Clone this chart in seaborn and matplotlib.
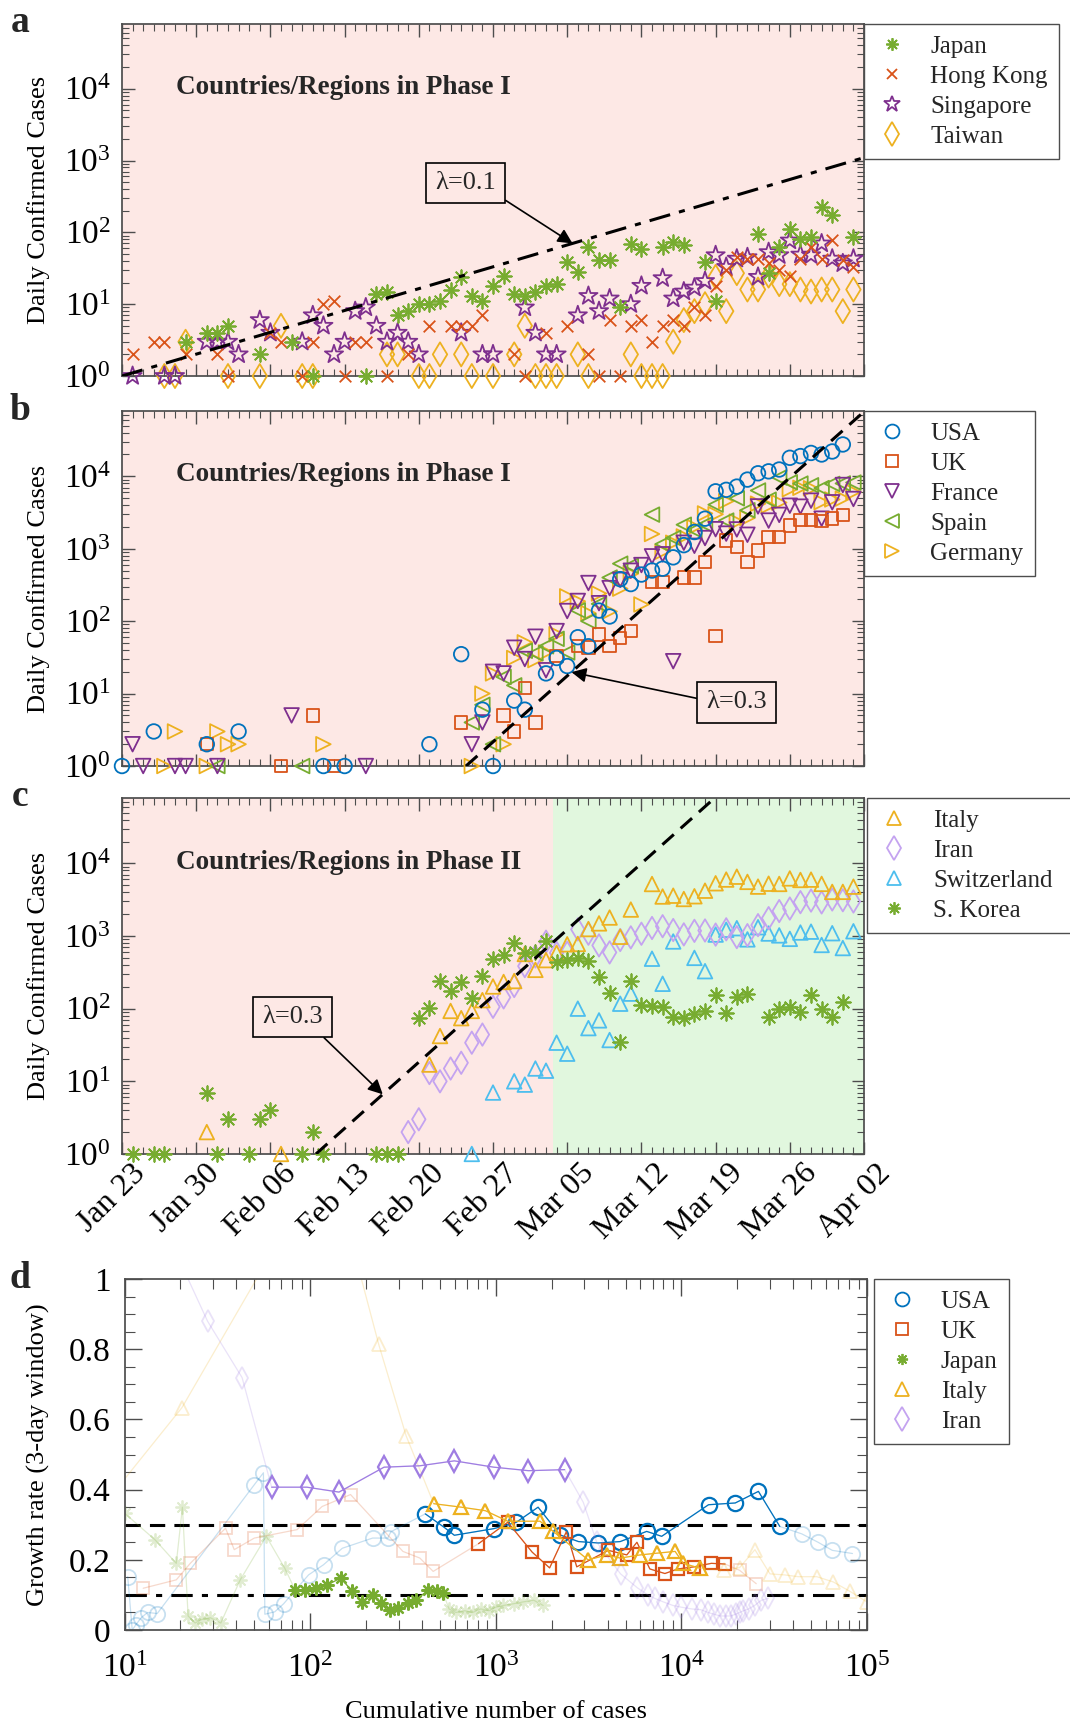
import numpy as np
import pandas as pd
import matplotlib
matplotlib.use("Agg")
import matplotlib.pyplot as plt
import matplotlib.dates as mdates
from matplotlib.lines import Line2D
from matplotlib.ticker import LogLocator, NullFormatter, MultipleLocator, FixedLocator, FuncFormatter
from matplotlib.transforms import ScaledTranslation
import seaborn as sns

sns.set_theme(style="ticks")
plt.rcParams["font.family"] = ["Liberation Serif", "DejaVu Serif"]
plt.rcParams["mathtext.fontset"] = "custom"
plt.rcParams["mathtext.rm"] = "Liberation Serif"
plt.rcParams["mathtext.it"] = "Liberation Serif:italic"
plt.rcParams["mathtext.bf"] = "Liberation Serif:bold"
plt.rcParams["axes.edgecolor"] = "0.3"
plt.rcParams["xtick.color"] = "0.3"
plt.rcParams["ytick.color"] = "0.3"
plt.rcParams["xtick.labelcolor"] = "black"
plt.rcParams["ytick.labelcolor"] = "black"
plt.rcParams["axes.labelcolor"] = "black"

# ---- data: day index counted from Jan 23 2020 ----
START = pd.Timestamp("2020-01-23")
WEEKS = pd.date_range("2020-01-23", "2020-04-02", freq="7D")

# panel a
japan_day = [6, 8, 9, 10, 13, 16, 18, 23, 24, 25, 26, 27, 28, 29, 30, 31, 32, 33, 34, 35, 36, 37, 38, 39, 40, 41,
             42, 43, 44, 45, 46, 47, 48, 49, 51, 52, 53, 55, 56, 60, 61, 62, 63, 64, 65, 66, 67, 69]
japan_val = [3, 4, 4, 5, 2, 3, 1, 1, 14, 15, 7, 8, 10, 10, 11, 16, 24, 13, 11, 18, 25, 14, 13, 15, 18, 19,
             39, 28, 63, 41, 41, 9, 69, 59, 63, 73, 66, 39, 11, 96, 27, 63, 112, 81, 86, 225, 172, 86]
hk_day = [1, 3, 4, 6, 9, 10, 14, 15, 17, 18, 19, 20, 21, 22, 23, 25, 27, 29, 31, 32, 33, 34, 37, 38, 40, 42,
          44, 45, 46, 47, 48, 49, 50, 51, 52, 53, 54, 55, 56, 57, 58, 59, 60, 61, 62, 63, 64, 65, 66, 67, 68, 69]
hk_val = [2, 3, 3, 2, 2, 1, 4, 3, 1, 3, 10, 11, 1, 3, 3, 1, 2, 5, 5, 5, 5, 7, 2, 1, 4, 5,
          2, 1, 6, 1, 5, 6, 3, 5, 6, 5, 9, 7, 18, 30, 45, 43, 43, 37, 30, 25, 43, 63, 43, 77, 41, 33]
sg_day = [1, 4, 5, 8, 9, 10, 11, 13, 14, 17, 18, 19, 20, 21, 22, 23, 24, 25, 26, 27, 28, 32, 34, 35, 38, 39,
          40, 41, 43, 44, 45, 46, 48, 49, 51, 52, 53, 54, 55, 56, 57, 58, 59, 60, 61, 62, 63, 64, 65, 66, 67, 68, 69]
sg_val = [1, 1, 1, 3, 3, 3, 2, 6, 4, 3, 7, 5, 2, 3, 8, 9, 5, 3, 4, 3, 2, 4, 2, 2, 9, 4,
          2, 2, 7, 13, 8, 12, 10, 18, 23, 12, 15, 17, 21, 48, 33, 43, 45, 24, 53, 48, 77, 49, 48, 70, 43, 37, 43]
tw_day = [4, 5, 6, 10, 13, 15, 17, 18, 25, 26, 28, 29, 30, 32, 33, 35, 37, 38, 39, 40, 41, 43, 44, 48, 49,
          50, 51, 52, 53, 54, 55, 56, 57, 58, 59, 60, 61, 62, 63, 64, 65, 66, 67, 68, 69]
tw_val = [1, 1, 3, 1, 1, 5, 1, 1, 2, 2, 1, 1, 2, 2, 1, 1, 2, 5, 1, 1, 1, 2, 1, 2, 1,
          1, 1, 3, 6, 8, 10, 24, 8, 27, 16, 16, 25, 19, 19, 16, 15, 16, 16, 8, 16]

# panel b
usa_day = [0, 3, 8, 11, 19, 21, 29, 32, 34, 35, 37, 38, 40, 41, 42, 43, 44, 45, 46, 47, 48, 49, 50, 51, 52,
           53, 54, 55, 56, 57, 58, 59, 60, 61, 62, 63, 64, 65, 66, 67, 68]
usa_val = [1, 3, 2, 3, 1, 1, 2, 35, 6, 1, 8, 6, 19, 31, 24, 60, 45, 140, 116, 380, 325, 440, 500, 530, 760,
           1120, 1700, 2600, 6200, 6500, 7200, 9000, 11000, 11700, 12400, 18000, 19000, 21000, 20000, 22000, 27500]
uk_day = [8, 15, 18, 20, 32, 36, 37, 38, 39, 41, 43, 44, 45, 46, 47, 48, 50, 51, 53, 54, 55, 56, 57, 58, 59,
          60, 61, 62, 63, 64, 65, 66, 67, 68]
uk_val = [2, 1, 5, 1, 4, 5, 3, 12, 4, 33, 45, 43, 65, 45, 58, 73, 345, 345, 400, 400, 650, 62, 1300, 1050, 650,
          950, 1450, 1450, 2100, 2500, 2500, 2400, 2600, 2900]
fr_day = [1, 2, 5, 6, 9, 16, 23] + list(range(33, 70))
fr_val = [2, 1, 1, 1, 1, 5, 1, 2, 4, 20, 19, 43, 30, 61, 21, 73, 138, 190, 336, 177, 286, 372, 497, 595, 785,
          838, 28, 1210, 1097, 1404, 1861, 1617, 1847, 1559, 3838, 2446, 2931, 3922, 3809, 4611, 2599, 4376,
          7578, 4861]
es_day = [9, 17] + list(range(33, 49)) + list(range(50, 70))
es_val = [1, 1, 4, 7, 2, 17, 13, 39, 36, 45, 57, 37, 141, 100, 173, 400, 622, 582, 2955, 1159, 1407, 2144,
          1806, 2162, 4053, 2447, 4964, 3394, 6368, 4749, 9630, 8271, 7933, 7516, 6875, 7846, 7967, 8195]
de_day = [4, 5, 8, 9, 10, 11, 19] + list(range(33, 70))
de_val = [1, 3, 1, 3, 2, 2, 2, 1, 10, 19, 2, 31, 51, 29, 37, 66, 220, 188, 129, 241, 136, 281, 451, 170,
          1597, 910, 1210, 1477, 1985, 3070, 2993, 4528, 2365, 2660, 4183, 3930, 4337, 6615, 6933, 6824,
          4400, 4790, 4923, 6064]

# panel c
it_day = [8, 15] + list(range(29, 49)) + list(range(50, 70))
it_val = [2, 1, 17, 42, 93, 74, 93, 131, 202, 233, 240, 566, 342, 466, 587, 769, 778, 1247, 1492, 1797, 977,
          2313, 5198, 3497, 3590, 3233, 3526, 4207, 5322, 5986, 6557, 5560, 4789, 5249, 5210, 6203, 5909,
          5974, 5217, 4050, 4053, 4782]
ir_day = list(range(27, 70))
ir_val = [2, 3, 13, 10, 15, 18, 34, 44, 106, 143, 205, 385, 523, 835, 586, 591, 1234, 1076, 743, 595, 881,
          958, 1075, 1289, 1365, 1209, 1053, 1178, 1192, 1046, 1237, 966, 1028, 1411, 1762, 2206, 2389, 2926,
          3076, 2901, 3186, 3110, 2988]
ch_day = [33, 35, 37, 38, 39, 40, 41, 42, 43, 44, 45, 46, 47, 48, 50, 51, 52, 54] + list(range(55, 70))
ch_val = [1, 7, 10, 9, 15, 14, 34, 24, 100, 54, 69, 37, 117, 161, 487, 220, 841, 500, 328, 1047, 1219, 1281,
          899, 1321, 1082, 1020, 914, 1117, 1148, 753, 1093, 683, 1163]
kr_day = [1, 3, 4, 8, 9, 10, 12, 13, 14, 17, 18, 19, 24, 25, 26] + list(range(28, 60)) + list(range(61, 69))
kr_val = [1, 1, 1, 7, 1, 3, 1, 3, 4, 1, 2, 1, 1, 1, 1, 75, 103, 243, 176, 236, 142, 285, 490, 545, 813, 586,
          599, 851, 435, 467, 505, 448, 273, 164, 35, 242, 114, 110, 107, 76, 74, 84, 93, 152, 87, 147, 160,
          76, 100, 104, 91, 154, 100, 78, 124]

# panel d: cumulative cases vs 3-day growth rate, (first, last+1) of the highlighted stretch
usa_n = [10.4, 11, 11.5, 12.3, 13.3, 15, 50, 56, 57, 64.5, 72, 98, 118, 149, 217, 262, 272, 417, 526, 598, 979,
         1290, 1690, 2220, 2790, 3570, 4680, 6500, 7830, 14000, 19500, 26000, 33900, 44500, 54500, 65000, 83500]
usa_g = [0.152, 0.0, 0.015, 0.035, 0.05, 0.047, 0.414, 0.448, 0.045, 0.052, 0.075, 0.157, 0.186, 0.233, 0.262,
         0.262, 0.28, 0.331, 0.293, 0.27, 0.289, 0.307, 0.35, 0.271, 0.252, 0.248, 0.252, 0.281, 0.267, 0.357,
         0.362, 0.395, 0.295, 0.274, 0.25, 0.227, 0.218]
usa_hi = (17, 33)
uk_n = [12.6, 19, 22.6, 35, 39, 50, 85, 116, 165, 316, 390, 460, 807, 1160, 1570, 1950, 2400, 2730, 4040, 5080,
        5760, 6760, 8150, 9560, 11700, 14500, 17200, 20600, 25300]
uk_g = [0.119, 0.143, 0.19, 0.29, 0.229, 0.262, 0.286, 0.352, 0.386, 0.224, 0.205, 0.167, 0.246, 0.307, 0.222,
        0.177, 0.28, 0.18, 0.227, 0.214, 0.25, 0.174, 0.161, 0.174, 0.18, 0.19, 0.188, 0.17, 0.132]
uk_hi = (12, 27)
jp_n = [10, 14.6, 19, 20.5, 22, 24, 26, 29, 33, 42, 58, 73, 83, 94, 108, 123, 146, 169, 191, 217, 241, 268, 297,
        336, 373, 432, 480, 521, 560, 610, 680, 750, 830, 920, 1000, 1100, 1250, 1400, 1600, 1800]
jp_g = [0.333, 0.257, 0.19, 0.35, 0.04, 0.02, 0.03, 0.035, 0.02, 0.143, 0.267, 0.176, 0.114, 0.114, 0.119, 0.128,
        0.148, 0.11, 0.081, 0.1, 0.076, 0.057, 0.062, 0.076, 0.086, 0.114, 0.11, 0.105, 0.06, 0.05, 0.055, 0.05,
        0.06, 0.055, 0.065, 0.07, 0.075, 0.08, 0.085, 0.07]
jp_hi = (12, 28)
it_n = [9, 20.4, 75, 150, 234, 329, 463, 652, 879, 1160, 1730, 2040, 3140, 3980, 4680, 6000, 7400, 9250, 10240,
        12600, 17000, 20600, 24900, 30000, 36000, 42600, 53600, 65800, 81000, 100000]
it_g = [0.40, 0.634, 1.15, 1.2, 0.814, 0.553, 0.36, 0.35, 0.34, 0.31, 0.31, 0.281, 0.2, 0.214, 0.205, 0.214,
        0.219, 0.224, 0.19, 0.176, 0.17, 0.178, 0.229, 0.16, 0.157, 0.152, 0.152, 0.137, 0.11, 0.08]
it_hi = (6, 20)
ir_n = [18, 28, 43, 62, 96, 143, 250, 390, 598, 976, 1500, 2350, 2960, 3500, 4700, 5800, 6600, 7200, 8000, 9000,
        10000, 11400, 12700, 13900, 15000, 16200, 17400, 18400, 19600, 20600, 21600, 23000, 24800, 27000, 29400]
ir_g = [1.1, 0.88, 0.719, 0.407, 0.407, 0.393, 0.464, 0.468, 0.482, 0.464, 0.454, 0.457, 0.364, 0.25, 0.16, 0.12,
        0.1, 0.09, 0.08, 0.07, 0.065, 0.06, 0.058, 0.05, 0.045, 0.04, 0.04, 0.04, 0.045, 0.05, 0.055, 0.06,
        0.07, 0.085, 0.09]
ir_hi = (3, 12)

# ---- style ----
BLUE, RED, YELLOW = "#0072BD", "#D95319", "#EDB120"
PURPLE, GREEN, CYAN = "#7E2F8E", "#77AC30", "#4DBEEE"
LAVENDER, IRAN_D = "#C4A3F0", "#9F7DE2"
PINK, MINT = "#FDE8E5", "#E1F7DE"
ASTER = (8, 2, 0)
UNFILLED = ("x", ASTER)
TICK_FS = 24


def to_dates(day):
    return START + pd.to_timedelta(np.asarray(day, dtype=float), unit="D")


def daily(ax, day, val, color, marker, s=110):
    kw = dict(color=color) if marker in UNFILLED else dict(color=color, facecolors="none", edgecolors=color)
    sns.scatterplot(x=to_dates(day), y=np.asarray(val, dtype=float), ax=ax, marker=marker, s=s,
                    linewidth=1.3, clip_on=False, zorder=3, legend=False, **kw)


def handle(color, marker, ms=10):
    return Line2D([], [], ls="none", marker=marker, ms=ms, mfc="none", mec=color, mew=1.3, color=color)


def setup_daily(ax, labels=False):
    ax.set_facecolor(PINK)
    ax.set_yscale("log")
    ax.set_ylim(1, 10 ** 4.9)
    ax.set_xlim(mdates.date2num(START), mdates.date2num(START + pd.Timedelta(days=70)))
    ax.yaxis.set_major_locator(LogLocator(base=10, numticks=10))
    ax.yaxis.set_minor_locator(LogLocator(base=10, subs=np.arange(2, 10), numticks=20))
    ax.yaxis.set_minor_formatter(NullFormatter())
    ax.xaxis.set_major_locator(FixedLocator(mdates.date2num(WEEKS)))
    ax.xaxis.set_minor_locator(mdates.DayLocator())
    ax.xaxis.set_major_formatter(mdates.DateFormatter("%b %d"))
    ax.tick_params(which="both", direction="in", top=True, right=True, labelsize=TICK_FS)
    ax.tick_params(axis="x", labelsize=23)
    ax.tick_params(axis="y", pad=8)
    ax.tick_params(which="major", length=9, width=1)
    ax.tick_params(which="minor", length=5, width=0.8)
    ax.set_xlabel("")
    ax.set_ylabel("Daily Confirmed Cases", fontsize=19)
    ax.yaxis.set_label_coords(-0.097, 0.5)
    if not labels:
        ax.tick_params(axis="x", labelbottom=False)
    else:
        for lab in ax.get_xticklabels():
            lab.set_rotation(45)
            lab.set_ha("center")
            lab.set_transform(lab.get_transform() + ScaledTranslation(-0.1, 0, ax.figure.dpi_scale_trans))


def legend(ax, entries, **kw):
    hs = [handle(c, m, ms) for _, c, m, ms in entries]
    leg = ax.legend(hs, [e[0] for e in entries], loc="upper left", frameon=True, fancybox=False,
                    edgecolor="0.3", framealpha=1, fontsize=18, labelspacing=0.3, borderpad=0.45,
                    handletextpad=0.9, handlelength=1.3, borderaxespad=0, **kw)
    leg.get_frame().set_linewidth(1.0)


def lam_box(ax, text, xy_day, xy_val, txt_pos, relpos):
    ax.annotate(text, xy=(mdates.date2num(START + pd.Timedelta(days=xy_day)), xy_val), xycoords="data",
                xytext=txt_pos, textcoords="axes fraction", fontsize=19, ha="center", va="center",
                bbox=dict(boxstyle="square,pad=0.35", fc="none", ec="black", lw=1.2),
                arrowprops=dict(arrowstyle="-|>", color="black", lw=1.2, mutation_scale=22,
                                shrinkA=0, shrinkB=0, relpos=relpos), zorder=5)


def guide(ax, t0, rate, ls):
    days = np.array([t0, 70.0])
    ax.plot(mdates.date2num(to_dates(days)), np.exp(rate * (days - t0)), color="black", lw=2.2, ls=ls, zorder=4)


def phase(ax, text):
    ax.text(0.073, 0.82, text, transform=ax.transAxes, fontsize=19.5, fontweight="bold", va="center")


fig = plt.figure(figsize=(10.7, 17.28), dpi=100)
ax_a = fig.add_axes([0.1140, 0.7824, 0.6935, 0.2037])
ax_b = fig.add_axes([0.1140, 0.5567, 0.6935, 0.2054])
ax_c = fig.add_axes([0.1140, 0.3322, 0.6935, 0.2060])
ax_d = fig.add_axes([0.1164, 0.0567, 0.6939, 0.2031])

# ---- a ----
daily(ax_a, tw_day, tw_val, YELLOW, "d", 150)
daily(ax_a, sg_day, sg_val, PURPLE, "*", 190)
daily(ax_a, hk_day, hk_val, RED, "x", 70)
daily(ax_a, japan_day, japan_val, GREEN, ASTER, 110)
guide(ax_a, 0, 0.1, (0, (7, 3, 2, 3)))
setup_daily(ax_a)
phase(ax_a, "Countries/Regions in Phase I")
lam_box(ax_a, "λ=0.1", 42.5, np.exp(4.25), (0.463, 0.548), (1, 0))
legend(ax_a, [("Japan", GREEN, ASTER, 9), ("Hong Kong", RED, "x", 7), ("Singapore", PURPLE, "*", 12),
              ("Taiwan", YELLOW, "d", 12)], bbox_to_anchor=(1.0, 1.0))

# ---- b ----
daily(ax_b, de_day, de_val, YELLOW, ">")
daily(ax_b, es_day, es_val, GREEN, "<")
daily(ax_b, fr_day, fr_val, PURPLE, "v")
daily(ax_b, uk_day, uk_val, RED, "s", 80)
daily(ax_b, usa_day, usa_val, BLUE, "o")
guide(ax_b, 32.45, 0.3, (0, (5, 3)))
setup_daily(ax_b)
phase(ax_b, "Countries/Regions in Phase I")
lam_box(ax_b, "λ=0.3", 42.4, np.exp(0.3 * (42.4 - 32.45)), (0.828, 0.179), (0, 0.6))
legend(ax_b, [("USA", BLUE, "o", 10), ("UK", RED, "s", 8), ("France", PURPLE, "v", 10),
              ("Spain", GREEN, "<", 10), ("Germany", YELLOW, ">", 10)], bbox_to_anchor=(1.0, 1.0))

# ---- c ----
ax_c.axvspan(mdates.date2num(START + pd.Timedelta(days=40.7)), mdates.date2num(START + pd.Timedelta(days=70)),
             color=MINT, zorder=0, lw=0)
daily(ax_c, ch_day, ch_val, CYAN, "^")
daily(ax_c, ir_day, ir_val, LAVENDER, "d", 130)
daily(ax_c, it_day, it_val, YELLOW, "^")
daily(ax_c, kr_day, kr_val, GREEN, ASTER, 110)
guide(ax_c, 18.3, 0.3, (0, (5, 3)))
setup_daily(ax_c, labels=True)
phase(ax_c, "Countries/Regions in Phase II")
lam_box(ax_c, "λ=0.3", 24.6, np.exp(0.3 * (24.6 - 18.3)), (0.230, 0.385), (0.85, 0))
legend(ax_c, [("Italy", YELLOW, "^", 10), ("Iran", LAVENDER, "d", 12), ("Switzerland", CYAN, "^", 10),
              ("S. Korea", GREEN, ASTER, 9)], bbox_to_anchor=(1.004, 1.0, 0.4, 0), mode="expand")

# ---- d ----
ax_d.set_xscale("log")
series_d = [(usa_n, usa_g, usa_hi, BLUE, "o", 11), (uk_n, uk_g, uk_hi, RED, "s", 9),
            (jp_n, jp_g, jp_hi, GREEN, ASTER, 10), (it_n, it_g, it_hi, YELLOW, "^", 10),
            (ir_n, ir_g, ir_hi, IRAN_D, "d", 11)]
for n, g, (lo, up), c, m, ms in series_d:
    n = np.asarray(n, dtype=float)
    g = np.asarray(g, dtype=float)
    sns.lineplot(x=n, y=g, ax=ax_d, color=c, marker=m, ms=ms, mfc="none", mec=c, mew=1.3, lw=0.9,
                 alpha=0.22, sort=False, estimator=None, legend=False)
    sns.lineplot(x=n[lo:up], y=g[lo:up], ax=ax_d, color=c, marker=m, ms=ms, mfc="none", mec=c, mew=1.6,
                 lw=0.9, sort=False, estimator=None, legend=False)
ax_d.axhline(0.3, color="black", lw=2.2, ls=(0, (5, 3)), zorder=1)
ax_d.axhline(0.1, color="black", lw=2.2, ls=(0, (7, 3, 2, 3)), zorder=1)
ax_d.set_xlim(10, 1e5)
ax_d.set_ylim(0, 1)
ax_d.yaxis.set_major_locator(MultipleLocator(0.2))
ax_d.yaxis.set_minor_locator(MultipleLocator(0.05))
ax_d.yaxis.set_major_formatter(FuncFormatter(lambda v, p: "%g" % round(v, 1)))
ax_d.xaxis.set_minor_locator(LogLocator(base=10, subs=np.arange(2, 10), numticks=20))
ax_d.xaxis.set_minor_formatter(NullFormatter())
ax_d.tick_params(which="both", direction="in", top=True, right=True, labelsize=TICK_FS)
ax_d.tick_params(which="major", length=12, width=1)
ax_d.tick_params(which="minor", length=7, width=0.8)
ax_d.tick_params(axis="x", pad=17)
ax_d.tick_params(axis="y", pad=10)
ax_d.set_xlabel("Cumulative number of cases", fontsize=19, labelpad=12)
ax_d.set_ylabel("Growth rate (3-day window)", fontsize=19)
ax_d.yaxis.set_label_coords(-0.100, 0.5)
legend(ax_d, [("USA", BLUE, "o", 10), ("UK", RED, "s", 8), ("Japan", GREEN, ASTER, 8),
              ("Italy", YELLOW, "^", 10), ("Iran", LAVENDER, "d", 12)], bbox_to_anchor=(1.01, 1.0))

for letter, y in [("a", 22), ("b", 410), ("c", 796), ("d", 1278)]:
    fig.text(20 / 1070, 1 - y / 1728, letter, fontsize=27, fontweight="bold", ha="center", va="center")

fig.savefig("out.png", dpi=100)
